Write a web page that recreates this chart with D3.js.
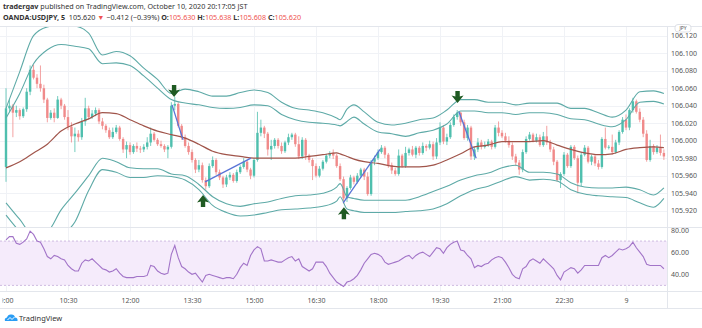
<!DOCTYPE html>
<html><head><meta charset="utf-8">
<script src="https://cdn.jsdelivr.net/npm/d3@7"></script>
<style>body{margin:0;background:#fff;}svg{display:block;font-family:"Noto Sans",sans-serif;}</style>
</head><body><svg id="c" width="702" height="328"></svg>
<script>
// ---------- DATA ----------
const timeTickIdx = [0,18,36,54,72,90,108,126,144,162,180];
const timeLabels = ["9:00","10:30","12:00","13:30","15:00","16:30","18:00","19:30","21:00","22:30","9"];
const priceTicks = [105.920,105.940,105.960,105.980,106.000,106.020,106.040,106.060,106.080,106.100,106.120];
const rsiTicks = [40,60,80];
const rsiBand = [30,70];

const open = [105.970,106.037,106.040,106.032,106.035,106.028,106.036,106.056,106.081,106.072,
106.065,106.060,106.047,106.026,106.032,106.026,106.047,106.040,106.027,106.016,
106.005,106.008,106.004,106.022,106.037,106.027,106.031,106.035,106.022,106.017,
106.012,106.004,106.010,106.015,106.002,105.990,105.995,105.987,105.994,105.991,
105.990,105.993,105.998,106.008,106.001,105.996,105.994,105.990,105.993,106.040,
106.042,106.017,106.004,105.994,105.987,105.978,105.967,105.972,105.955,105.948,
105.971,105.978,105.964,105.958,105.950,105.958,105.961,105.954,105.964,105.970,
105.976,105.967,105.960,105.978,106.009,106.015,106.008,105.990,105.994,106.001,
105.994,105.988,105.998,106.004,106.007,105.996,105.982,106.001,105.983,105.978,
105.971,105.960,105.968,105.976,105.983,105.986,105.983,105.971,105.956,105.934,
105.946,105.958,105.953,105.960,105.967,105.959,105.939,105.976,105.980,105.987,
105.992,105.984,105.972,105.966,105.962,105.983,105.971,105.986,105.990,105.984,
105.992,105.986,105.994,105.992,105.996,105.982,105.998,106.015,105.999,106.004,
106.018,106.027,106.032,106.021,106.003,106.015,105.982,105.990,105.998,105.993,
105.995,105.999,105.993,106.015,106.009,106.005,106.000,105.995,105.982,105.975,
105.967,105.987,106.002,106.007,106.000,106.004,105.995,106.005,105.998,105.990,
105.976,105.955,105.962,105.984,105.971,105.993,105.980,105.952,105.984,105.992,
105.976,105.982,105.974,105.970,106.002,105.992,105.993,105.987,105.998,106.010,
106.024,106.015,106.035,106.045,106.033,106.024,106.008,105.978,105.994,105.987,
105.992,105.986];
const high = [106.060,106.047,106.042,106.040,106.037,106.038,106.060,106.086,106.087,106.076,
106.086,106.064,106.049,106.035,106.037,106.051,106.049,106.042,106.035,106.021,
106.015,106.012,106.026,106.049,106.040,106.035,106.038,106.037,106.026,106.019,
106.015,106.015,106.018,106.017,106.004,105.999,105.998,105.996,105.998,105.994,
105.996,106.004,106.015,106.010,106.003,106.000,105.996,105.995,106.044,106.050,
106.044,106.019,106.007,105.998,105.990,105.980,105.978,105.975,105.958,105.974,
105.982,105.980,105.967,105.960,105.961,105.964,105.963,105.967,105.972,105.980,
105.978,105.969,105.980,106.033,106.024,106.017,106.010,106.001,106.003,106.003,
105.998,106.000,106.008,106.009,106.009,106.005,106.004,106.003,105.985,105.980,
105.974,105.971,105.978,105.985,105.988,105.990,105.985,105.974,105.959,105.948,
105.961,105.960,105.963,105.969,105.969,105.964,105.978,105.983,105.990,105.995,
105.994,105.986,105.975,105.969,105.990,105.985,105.993,105.992,105.994,105.994,
105.994,105.998,105.996,106.000,105.999,106.003,106.021,106.018,106.008,106.021,
106.030,106.035,106.033,106.024,106.018,106.017,105.993,106.003,106.001,105.999,
106.002,106.001,106.018,106.022,106.012,106.009,106.005,105.998,105.985,105.978,
105.990,106.005,106.010,106.009,106.008,106.007,106.010,106.017,106.001,105.993,
105.978,105.964,105.987,105.986,105.995,105.995,105.983,105.987,105.995,105.994,
105.984,105.984,105.978,106.004,106.015,105.995,106.007,106.001,106.012,106.027,
106.030,106.037,106.049,106.047,106.037,106.027,106.012,106.001,105.996,105.995,
106.007,105.990];
const low = [105.953,106.033,106.004,106.027,106.024,106.026,106.033,106.052,106.070,106.060,
106.056,106.043,106.021,106.024,106.021,106.025,106.036,106.024,106.012,105.998,
105.987,105.999,106.001,106.017,106.024,106.025,106.028,106.019,106.013,106.009,
106.002,106.002,106.008,106.000,105.986,105.980,105.984,105.985,105.987,105.986,
105.987,105.990,105.994,105.999,105.994,105.992,105.987,105.980,105.991,106.035,
106.015,106.001,105.992,105.984,105.975,105.963,105.964,105.952,105.944,105.946,
105.969,105.961,105.955,105.946,105.947,105.955,105.952,105.952,105.962,105.968,
105.964,105.956,105.958,105.976,106.005,106.003,105.983,105.978,105.991,105.991,
105.985,105.986,105.995,106.001,105.993,105.979,105.979,105.978,105.975,105.955,
105.958,105.958,105.966,105.974,105.980,105.979,105.969,105.954,105.928,105.930,
105.944,105.950,105.951,105.958,105.955,105.937,105.937,105.972,105.978,105.985,
105.980,105.969,105.962,105.960,105.960,105.969,105.969,105.983,105.982,105.980,
105.983,105.984,105.988,105.990,105.978,105.979,105.995,105.996,105.995,106.002,
106.016,106.024,106.017,106.001,106.000,105.978,105.978,105.987,105.990,105.991,
105.993,105.990,105.991,106.005,106.003,105.998,105.992,105.978,105.971,105.961,
105.964,105.985,106.000,105.998,105.998,105.993,105.993,105.995,105.987,105.972,
105.953,105.946,105.960,105.969,105.969,105.978,105.940,105.948,105.982,105.974,
105.972,105.971,105.967,105.968,105.990,105.990,105.984,105.985,105.995,106.008,
106.012,106.012,106.032,106.031,106.021,106.004,105.976,105.976,105.984,105.985,
105.983,105.978];
const close = [106.037,106.040,106.032,106.035,106.028,106.036,106.056,106.081,106.072,106.065,
106.060,106.047,106.026,106.032,106.026,106.047,106.040,106.027,106.016,106.005,
106.008,106.004,106.022,106.037,106.027,106.031,106.035,106.022,106.017,106.012,
106.004,106.010,106.015,106.002,105.990,105.995,105.987,105.994,105.991,105.990,
105.993,105.998,106.008,106.001,105.996,105.994,105.990,105.993,106.040,106.042,
106.017,106.004,105.994,105.987,105.978,105.967,105.972,105.955,105.948,105.971,
105.978,105.964,105.958,105.950,105.958,105.961,105.954,105.964,105.970,105.976,
105.967,105.960,105.978,106.009,106.015,106.008,105.990,105.994,106.001,105.994,
105.988,105.998,106.004,106.007,105.996,105.982,106.001,105.983,105.978,105.971,
105.960,105.968,105.976,105.983,105.986,105.983,105.971,105.956,105.934,105.946,
105.958,105.953,105.960,105.967,105.959,105.939,105.976,105.980,105.987,105.992,
105.984,105.972,105.966,105.962,105.983,105.971,105.986,105.990,105.984,105.992,
105.986,105.994,105.992,105.996,105.982,105.998,106.015,105.999,106.004,106.018,
106.027,106.032,106.021,106.003,106.015,105.982,105.990,105.998,105.993,105.995,
105.999,105.993,106.015,106.009,106.005,106.000,105.995,105.982,105.975,105.967,
105.987,106.002,106.007,106.000,106.004,105.995,106.005,105.998,105.990,105.976,
105.955,105.962,105.984,105.971,105.993,105.980,105.952,105.984,105.992,105.976,
105.982,105.974,105.970,106.002,105.992,105.993,105.987,105.998,106.010,106.024,
106.015,106.035,106.045,106.033,106.024,106.008,105.978,105.994,105.987,105.992,
105.986,105.982];

const bandIdx = [0,4,8,12,16,20,24,28,32,36,40,44,48,52,56,60,64,68,72,76,80,84,88,92,96,97,99,101,104,108,112,116,120,124,128,132,136,140,144,148,152,156,160,164,168,172,176,180,184,188,191];
const bbUpperOuter = [106.037,106.079,106.120,106.130,106.132,106.131,106.123,106.098,106.102,106.097,106.083,106.070,106.054,106.059,106.056,106.051,106.051,106.055,106.058,106.055,106.044,106.037,106.035,106.032,106.026,106.024,106.036,106.041,106.033,106.021,106.018,106.020,106.024,106.026,106.035,106.047,106.047,106.044,106.044,106.041,106.043,106.043,106.043,106.037,106.037,106.032,106.027,106.035,106.056,106.057,106.054];
const bbUpperInner = [106.026,106.054,106.088,106.104,106.110,106.108,106.105,106.088,106.089,106.086,106.074,106.060,106.047,106.043,106.041,106.038,106.037,106.038,106.041,106.040,106.030,106.024,106.021,106.020,106.018,106.017,106.022,106.027,106.019,106.010,106.008,106.005,106.009,106.012,106.019,106.034,106.034,106.032,106.032,106.030,106.032,106.032,106.030,106.025,106.024,106.019,106.016,106.024,106.044,106.045,106.042];
const bbLowerInner = [105.929,105.910,105.892,105.896,105.921,105.940,105.960,105.980,105.976,105.969,105.968,105.968,105.962,105.960,105.950,105.936,105.928,105.925,105.928,105.930,105.934,105.937,105.938,105.940,105.947,105.951,105.936,105.934,105.932,105.932,105.932,105.932,105.936,105.942,105.948,105.955,105.960,105.963,105.969,105.972,105.964,105.964,105.962,105.952,105.947,105.946,105.946,105.947,105.944,105.938,105.946];
const bbLowerOuter = [105.915,105.896,105.881,105.877,105.891,105.907,105.943,105.967,105.964,105.958,105.958,105.960,105.959,105.955,105.944,105.926,105.918,105.914,105.915,105.918,105.921,105.922,105.923,105.925,105.931,105.936,105.922,105.920,105.918,105.918,105.918,105.919,105.920,105.922,105.928,105.937,105.944,105.948,105.954,105.959,105.955,105.956,105.954,105.944,105.939,105.937,105.936,105.935,105.929,105.924,105.934];
const maLine = [105.969,105.976,105.986,105.996,106.011,106.019,106.025,106.032,106.031,106.024,106.017,106.011,106.007,106.003,105.996,105.988,105.984,105.982,105.980,105.980,105.980,105.980,105.982,105.984,105.986,105.985,105.982,105.979,105.976,105.974,105.971,105.970,105.970,105.972,105.978,105.985,105.993,105.995,105.999,105.999,105.999,106.000,105.995,105.990,105.986,105.984,105.985,105.990,105.992,105.993,105.992];

const rsi = [71,74,74,68,67,69,72,79,76,70,
69,63,56,54,57,56,54,53,48,45,
43,43,50,53,52,54,51,48,45,44,
42,43,45,41,38,37,37,37,38,38,
38,39,48,47,43,41,40,41,58,66,
55,47,45,42,40,41,37,33,39,40,
39,38,37,36,37,37,36,40,46,50,
48,57,62,65,63,52,52,53,52,51,
51,53,55,56,52,54,47,45,43,45,
51,51,51,47,41,37,33,31,29,33,
34,36,39,44,50,54,58,59,58,56,
51,49,50,51,52,54,56,57,54,57,
59,60,58,56,60,64,63,59,64,67,
69,70,62,61,57,54,46,48,47,49,
50,53,55,56,55,51,46,40,37,36,
45,47,52,54,52,50,54,51,48,45,
39,35,42,44,46,45,41,44,48,48,
48,48,48,55,57,55,57,60,63,62,
63,65,69,64,60,56,49,48,48,48,
48,45];

// trend lines: [startIdx, startPrice, endIdx, endPrice]
const trendLines = [[48.2,106.041,51.4,106.001],[57.8,105.953,71.1,105.980],[97.9,105.929,108.6,105.990],[131.5,106.033,136.5,105.980]];
// arrows: [idx, tipPrice, direction]
const arrows = [[48.8,106.050,"down"],[57.2,105.938,"up"],[98.1,105.924,"up"],[131.1,106.043,"down"]];

// ---------- LAYOUT ----------
const svg = d3.select("#c");
const plotR = 667, mainT = 27, mainB = 227, rsiT = 228, rsiB = 291, axB = 308;
const x = d3.scaleLinear().domain([0,180]).range([6,626]);
const y = d3.scaleLinear().domain([105.92,106.12]).range([210.7,35.7]);
const yr = d3.scaleLinear().domain([40,80]).range([274.3,230]);
const UP = "#4fbfae", DN = "#f08a8a";

const defs = svg.append("defs");
defs.append("clipPath").attr("id","cm").append("rect").attr("x",0).attr("y",mainT).attr("width",plotR).attr("height",mainB-mainT);
defs.append("clipPath").attr("id","cr").append("rect").attr("x",0).attr("y",rsiT).attr("width",plotR).attr("height",rsiB-rsiT);
defs.append("clipPath").attr("id","ct").append("rect").attr("x",2.5).attr("y",rsiB).attr("width",plotR-2.5).attr("height",axB-rsiB);

// header
const hdr = svg.append("g").attr("font-size",7.2).attr("fill","#333");
const l1 = hdr.append("text").attr("x",3).attr("y",9);
l1.append("tspan").attr("font-weight","bold").text("tradergav");
l1.append("tspan").text(" published on TradingView.com, October 10, 2020 20:17:05 JST");
const l2 = hdr.append("text").attr("x",3).attr("y",20);
const red = "#ef5350";
[["OANDA:USDJPY, 5","bold",null],["  105.620 ",null,null],["▼",null,red],[" −0.412 (−0.39%) ",null,null],
 ["O:","bold",null],["105.630",null,red],[" H:","bold",null],["105.638",null,red],[" L:","bold",null],["105.608",null,red],[" C:","bold",null],["105.620",null,red]]
 .forEach(([t,w,c])=>{const s=l2.append("tspan").text(t).attr("xml:space","preserve"); if(w) s.attr("font-weight",w); if(c) s.attr("fill",c);});

// grid
const grid = svg.append("g").attr("stroke","#f0f2f6").attr("stroke-width",1);
timeTickIdx.forEach(d=>{grid.append("line").attr("x1",Math.round(x(d))+0.5).attr("x2",Math.round(x(d))+0.5).attr("y1",mainT).attr("y2",rsiB);});
priceTicks.forEach(d=>{grid.append("line").attr("x1",0).attr("x2",plotR).attr("y1",Math.round(y(d))+0.5).attr("y2",Math.round(y(d))+0.5);});

// borders
const bd = svg.append("g").attr("stroke","#e3e6ec").attr("stroke-width",1);
bd.append("line").attr("x1",0).attr("x2",702).attr("y1",mainT-0.5).attr("y2",mainT-0.5);
bd.append("line").attr("x1",0).attr("x2",702).attr("y1",mainB+0.5).attr("y2",mainB+0.5);
bd.append("line").attr("x1",0).attr("x2",702).attr("y1",rsiB+0.5).attr("y2",rsiB+0.5);
bd.append("line").attr("x1",0).attr("x2",702).attr("y1",axB+0.5).attr("y2",axB+0.5);
bd.append("line").attr("x1",plotR+0.5).attr("x2",plotR+0.5).attr("y1",mainT).attr("y2",axB);

// main pane
const main = svg.append("g").attr("clip-path","url(#cm)");
const idx = d3.range(close.length);
main.selectAll("line.wick").data(idx).join("line").attr("class","wick")
  .attr("x1",i=>x(i)).attr("x2",i=>x(i)).attr("y1",i=>y(high[i])).attr("y2",i=>y(low[i]))
  .attr("stroke",i=>close[i]>=open[i]?UP:DN).attr("stroke-width",0.8);
main.selectAll("rect.body").data(idx).join("rect").attr("class","body")
  .attr("x",i=>x(i)-1.2).attr("width",2.4)
  .attr("y",i=>Math.min(y(open[i]),y(close[i])))
  .attr("height",i=>Math.max(0.8,Math.abs(y(open[i])-y(close[i]))))
  .attr("fill",i=>close[i]>=open[i]?UP:DN);

const bandLine = arr => d3.line().curve(d3.curveMonotoneX).x((d,k)=>x(bandIdx[k])).y(d=>y(d))(arr);
[bbUpperOuter,bbUpperInner,bbLowerInner,bbLowerOuter].forEach(a=>{
  main.append("path").attr("d",bandLine(a)).attr("fill","none").attr("stroke","#5eaaa7").attr("stroke-width",1.1);
});
main.append("path").attr("d",bandLine(maLine)).attr("fill","none").attr("stroke","#a0544a").attr("stroke-width",1.2);

trendLines.forEach(([i0,p0,i1,p1])=>{
  main.append("line").attr("x1",x(i0)).attr("y1",y(p0)).attr("x2",x(i1)).attr("y2",y(p1))
    .attr("stroke","#5a74d6").attr("stroke-width",1.3);
});
arrows.forEach(([i,p,dir])=>{
  const s = dir==="down"?1:-1;
  const pts = [[-2.2,-12],[2.2,-12],[2.2,-6.5],[6,-7.5],[0,0],[-6,-7.5],[-2.2,-6.5]];
  main.append("path").attr("d","M"+pts.map(q=>[q[0],q[1]*s].join(",")).join("L")+"Z")
    .attr("transform",`translate(${x(i)},${y(p)})`).attr("fill","#1f5a22");
});

// price axis
const pa = svg.append("g").attr("transform",`translate(${plotR},0)`)
  .call(d3.axisRight(y).tickValues(priceTicks).tickSize(0).tickPadding(4).tickFormat(d3.format(".3f")));
pa.select(".domain").remove();
pa.selectAll("text").attr("font-size",7).attr("fill","#555").attr("font-family","Noto Sans, sans-serif");
// JPY badge (sits just above the top price label)
svg.append("rect").attr("x",675).attr("y",24.5).attr("width",16).attr("height",7.5).attr("rx",3)
  .attr("fill","#fff").attr("stroke","#d6d9e0").attr("stroke-width",0.8);
svg.append("text").attr("x",683).attr("y",30.2).attr("text-anchor","middle").attr("font-size",5).attr("fill","#555").text("JPY");

// RSI pane
const rp = svg.append("g").attr("clip-path","url(#cr)");
rp.append("rect").attr("x",0).attr("width",plotR).attr("y",yr(rsiBand[1])).attr("height",yr(rsiBand[0])-yr(rsiBand[1])).attr("fill","#f5ebfb");
rsiBand.forEach(v=>rp.append("line").attr("x1",0).attr("x2",plotR).attr("y1",yr(v)).attr("y2",yr(v))
  .attr("stroke","#c9b3de").attr("stroke-dasharray","2,2").attr("stroke-width",0.9));
rp.append("path").attr("d",d3.line().x((d,i)=>x(i)).y(d=>yr(d))(rsi)).attr("fill","none").attr("stroke","#a274c8").attr("stroke-width",1.1);
const ra = svg.append("g").attr("transform",`translate(${plotR},0)`)
  .call(d3.axisRight(yr).tickValues(rsiTicks).tickSize(0).tickPadding(4).tickFormat(d3.format(".2f")));
ra.select(".domain").remove();
ra.selectAll("text").attr("font-size",7).attr("fill","#555").attr("font-family","Noto Sans, sans-serif");

// time axis
const ta = svg.append("g").attr("clip-path","url(#ct)").append("g").attr("transform",`translate(0,${rsiB+5})`)
  .call(d3.axisBottom(x).tickValues(timeTickIdx).tickSize(0).tickPadding(2).tickFormat((d,k)=>timeLabels[k]));
ta.select(".domain").remove();
ta.selectAll("text").attr("font-size",7).attr("fill","#555").attr("font-family","Noto Sans, sans-serif");

// logo
const lg = svg.append("g").attr("transform","translate(4,313)");
lg.append("path").attr("d","M1,8 Q0,5 3,4.5 Q4,1 7.5,1.5 Q10.5,1.5 11,4.5 Q14,4.8 13.5,8 Z").attr("fill","#2a9df4");
lg.append("path").attr("d","M3.5,7 L6,4.5 L8,6.5 L10.5,4").attr("fill","none").attr("stroke","#fff").attr("stroke-width",1);
svg.append("text").attr("x",19).attr("y",321).attr("font-size",7.5).attr("fill","#333").text("TradingView");
</script></body></html>
